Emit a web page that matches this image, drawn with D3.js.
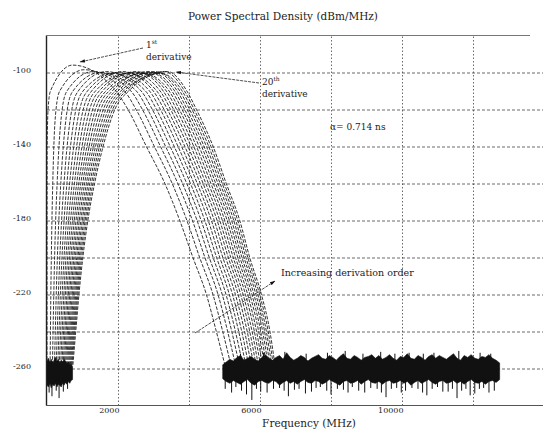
<!DOCTYPE html>
<html><head><meta charset="utf-8">
<script src="https://cdn.jsdelivr.net/npm/d3@7"></script>
<style>
body{margin:0;background:#fff}
svg{display:block;background:#fff}
text{font-family:"DejaVu Serif",serif;fill:#222}
</style>
</head><body>
<svg id="c" width="543" height="437"></svg>
<script>
// ---------- data (frequencies in GHz, levels in dBm/MHz) ----------
const derivOrders = [1,2,3,4,5,6,7,8,9,10,11,12,13,14,15,16,17,18,19,20];
const riseLevels = [-258,-240,-220,-200,-180,-160,-140,-120,-110];
const fallLevels = [-110,-120,-140,-160,-180,-200,-220,-240,-258];
const riseFreq = [
 [0.000,0.0005,0.001,0.0015,0.002,0.003,0.005,0.030,0.097],
 [0.087,0.097,0.108,0.122,0.139,0.162,0.192,0.254,0.359],
 [0.154,0.171,0.191,0.214,0.244,0.285,0.337,0.427,0.562],
 [0.210,0.234,0.260,0.292,0.333,0.388,0.459,0.571,0.731],
 [0.260,0.289,0.321,0.361,0.411,0.479,0.566,0.699,0.881],
 [0.304,0.338,0.376,0.422,0.481,0.561,0.662,0.814,1.016],
 [0.346,0.384,0.427,0.480,0.546,0.637,0.752,0.921,1.141],
 [0.385,0.427,0.475,0.533,0.607,0.708,0.835,1.021,1.258],
 [0.421,0.467,0.519,0.582,0.663,0.773,0.912,1.113,1.366],
 [0.455,0.505,0.561,0.630,0.717,0.836,0.986,1.201,1.470],
 [0.487,0.540,0.601,0.674,0.768,0.895,1.056,1.284,1.566],
 [0.518,0.575,0.639,0.718,0.817,0.952,1.123,1.365,1.661],
 [0.548,0.608,0.675,0.758,0.863,1.006,1.186,1.440,1.749],
 [0.577,0.640,0.711,0.798,0.909,1.059,1.249,1.515,1.837],
 [0.604,0.671,0.745,0.837,0.953,1.110,1.309,1.587,1.921],
 [0.631,0.700,0.778,0.873,0.994,1.158,1.366,1.654,2.000],
 [0.657,0.729,0.810,0.909,1.035,1.206,1.423,1.722,2.080],
 [0.682,0.757,0.841,0.943,1.074,1.252,1.476,1.786,2.155],
 [0.706,0.783,0.870,0.977,1.112,1.296,1.528,1.848,2.227],
 [0.730,0.810,0.900,1.010,1.150,1.340,1.580,1.910,2.300]
];
const peakFreq = [0.72,1.04,1.29,1.49,1.67,1.84,1.99,2.13,2.26,2.39,2.51,2.62,2.73,2.84,2.94,3.04,3.13,3.22,3.31,3.40];
const peakDb = [-96,-98.5,-99.5,-100,-99.5,-100.5,-100,-99.5,-100.5,-100,-99.5,-100,-100.5,-99.5,-100,-99.5,-100,-100.5,-99.5,-99.5];
const fallFreq = [
 [1.940,2.280,2.800,3.320,3.740,4.110,4.490,4.770,5.010],
 [2.178,2.510,3.024,3.526,3.941,4.300,4.675,4.950,5.178],
 [2.362,2.687,3.197,3.685,4.097,4.448,4.817,5.089,5.308],
 [2.516,2.836,3.341,3.818,4.227,4.571,4.936,5.205,5.416],
 [2.652,2.967,3.469,3.936,4.342,4.680,5.042,5.308,5.512],
 [2.774,3.085,3.584,4.041,4.445,4.777,5.136,5.400,5.598],
 [2.888,3.195,3.691,4.140,4.541,4.868,5.225,5.486,5.678],
 [2.994,3.297,3.791,4.232,4.631,4.953,5.307,5.566,5.753],
 [3.092,3.392,3.883,4.317,4.713,5.032,5.383,5.640,5.822],
 [3.186,3.482,3.971,4.398,4.793,5.107,5.456,5.711,5.888],
 [3.274,3.567,4.054,4.474,4.867,5.177,5.524,5.777,5.951],
 [3.360,3.650,4.135,4.548,4.940,5.246,5.591,5.842,6.011],
 [3.440,3.728,4.210,4.618,5.008,5.310,5.653,5.903,6.068],
 [3.520,3.805,4.285,4.687,5.075,5.374,5.715,5.963,6.124],
 [3.596,3.878,4.357,4.752,5.139,5.435,5.773,6.020,6.178],
 [3.668,3.948,4.424,4.815,5.200,5.492,5.829,6.075,6.228],
 [3.740,4.017,4.492,4.877,5.261,5.550,5.885,6.129,6.279],
 [3.808,4.083,4.556,4.936,5.319,5.604,5.938,6.180,6.327],
 [3.874,4.146,4.618,4.993,5.374,5.657,5.989,6.230,6.374],
 [3.940,4.210,4.680,5.050,5.430,5.710,6.040,6.280,6.420]
];
// noise floor: [freq, top dB, bottom dB]
const noiseLeft = [
 [0.00,-256,-269],[0.04,-254.5,-270],[0.08,-256.5,-268],[0.12,-255,-270.5],[0.16,-257,-268.5],
 [0.20,-255.5,-269.5],[0.24,-254,-268],[0.28,-256,-270],[0.32,-255,-268.5],[0.36,-257,-269],
 [0.40,-255.5,-270],[0.44,-256.5,-268],[0.48,-255,-269],[0.52,-256,-267.5],[0.56,-257.5,-268.5],
 [0.60,-256.5,-267],[0.64,-258,-268],[0.68,-257.5,-266.5],[0.72,-259,-266]
];
const noiseRight = [
 [4.95,-258,-265.5],[5.05,-256.5,-267],[5.15,-255,-268],[5.25,-256,-266.5],[5.35,-254,-267.5],
 [5.45,-253,-268.5],[5.55,-255.5,-267],[5.65,-254.5,-266],[5.75,-253.5,-268],[5.85,-255,-269],
 [5.95,-256,-267],[6.05,-254,-266.5],[6.15,-252.5,-267.5],[6.25,-254.5,-268],[6.35,-255.5,-266.5],
 [6.45,-254,-267],[6.55,-253,-269],[6.65,-255,-267.5],[6.75,-251.5,-266.5],[6.85,-254,-268],
 [6.95,-255.5,-267],[7.05,-254.5,-268.5],[7.15,-253,-267],[7.25,-254,-266],[7.35,-256,-267.5],
 [7.45,-254.5,-268],[7.55,-253.5,-266.5],[7.65,-252.5,-267],[7.75,-254.5,-268.5],[7.85,-255,-267.5],
 [7.95,-253,-266],[8.05,-254,-267],[8.15,-255.5,-268],[8.25,-253.5,-269],[8.35,-252,-267],
 [8.45,-254.5,-266.5],[8.55,-255,-268],[8.65,-253,-267.5],[8.75,-254,-266.5],[8.85,-255.5,-268.5],
 [8.95,-254,-267],[9.05,-253.5,-266],[9.15,-252.5,-267.5],[9.25,-254.5,-268],[9.35,-253,-267],
 [9.45,-255,-268.5],[9.55,-254,-267],[9.65,-252.5,-266.5],[9.75,-254.5,-268],[9.85,-255.5,-267.5],
 [9.95,-253.5,-266.5],[10.05,-254,-268],[10.15,-252,-267],[10.25,-254.5,-269],[10.35,-255,-267.5],
 [10.45,-253,-266.5],[10.55,-254,-268],[10.65,-255.5,-267],[10.75,-253.5,-266],[10.85,-252.5,-267.5],
 [10.95,-254.5,-268.5],[11.05,-253,-267],[11.15,-254,-266.5],[11.25,-255,-268],[11.35,-253.5,-267.5],
 [11.45,-252,-266.5],[11.55,-254.5,-268],[11.65,-255.5,-267],[11.75,-253,-268.5],[11.85,-254,-267],
 [11.95,-252.5,-266],[12.05,-254.5,-267.5],[12.15,-255,-268],[12.25,-253.5,-267],[12.35,-254,-268.5],
 [12.45,-252.5,-267],[12.55,-254.5,-266.5],[12.65,-255.5,-267.5],[12.75,-257,-266]
];
const noiseSpikesDown = [
 [0.06,-273],[0.14,-275],[0.26,-272],[0.34,-276],[0.46,-272.5],[0.58,-271],
 [5.02,-271],[5.20,-273],[5.32,-270],[5.48,-272],[5.62,-274],[5.77,-277],[5.90,-271],[6.02,-272.5],
 [6.20,-273],[6.38,-271],[6.55,-270.5],[6.68,-272],[6.80,-275],[6.97,-271.5],[7.10,-271],[7.28,-273.5],
 [7.45,-272.5],[7.58,-270.5],[7.70,-270],[7.88,-272],[8.00,-274],[8.18,-271],[8.35,-271.5],[8.48,-273],
 [8.60,-270],[8.78,-272],[8.95,-273],[9.12,-270.5],[9.30,-271],[9.42,-273],[9.55,-275.5],[9.70,-271],
 [9.85,-270.5],[9.98,-273],[10.10,-272],[10.28,-270.5],[10.45,-271],[10.58,-273],[10.70,-274.5],
 [10.85,-271],[11.00,-270],[11.15,-272.5],[11.30,-272.5],[11.42,-271],[11.55,-276],[11.68,-272],
 [11.80,-271],[11.92,-274.5],[12.05,-273.5],[12.18,-271],[12.30,-270.5],[12.45,-273],[12.60,-272]
];
const noiseSpikesUp = [
 [5.45,-252],[6.10,-251.5],[6.70,-251],[7.30,-252],[7.90,-251.5],[8.40,-250.5],[8.90,-252],
 [9.40,-251],[9.80,-252],[10.20,-251.5],[10.60,-252],[10.90,-251.5],[11.60,-250.5],[12.20,-251.5],[12.50,-252]
];
const xGridMHz = [2000,4000,6000,8000,10000,12000];
const xLabelMHz = [2000,6000,10000];
const yGridDb = [-260,-240,-220,-200,-180,-160,-140,-120,-100];
const yLabelDb = [-100,-140,-180,-220,-260];

// ---------- layout ----------
const svg = d3.select("#c");
const L = 47, R = 544, T = 35.5, B = 405.5;
const x = d3.scaleLinear().domain([0, 14000]).range([L, R]);
const y = d3.scaleLinear().domain([-280, -80]).range([B, T]);
const xf = g => x(g * 1000);

// gridlines
svg.append("g").attr("transform", `translate(0,${B})`)
  .call(d3.axisBottom(x).tickValues(xGridMHz).tickSize(-(B - T)).tickFormat(""))
  .call(g => g.select(".domain").remove())
  .call(g => g.selectAll("line").attr("stroke", "#444").attr("stroke-width", 0.8).attr("stroke-dasharray", "1.5,2"));
svg.append("g").attr("transform", `translate(${L},0)`)
  .call(d3.axisLeft(y).tickValues(yGridDb).tickSize(-(R - L)).tickFormat(""))
  .call(g => g.select(".domain").remove())
  .call(g => g.selectAll("line").attr("stroke", "#444").attr("stroke-width", 0.8).attr("stroke-dasharray", "3,2"));

// curves
const line = d3.line().x(d => xf(d[0])).y(d => y(d[1])).curve(d3.curveMonotoneX);
const curves = derivOrders.map((n, i) => {
  const pts = [];
  riseLevels.forEach((lv, j) => { if (lv < peakDb[i]) pts.push([riseFreq[i][j], lv]); });
  pts.push([peakFreq[i], peakDb[i]]);
  fallLevels.forEach((lv, j) => pts.push([fallFreq[i][j], lv]));
  return pts;
});
svg.append("g").selectAll("path").data(curves).join("path")
  .attr("d", line).attr("fill", "none").attr("stroke", "#111")
  .attr("stroke-width", 0.85).attr("stroke-dasharray", "3.5,1.5");

// noise floor
const area = d3.area().x(d => xf(d[0])).y0(d => y(d[2])).y1(d => y(d[1]));
svg.append("g").selectAll("path").data([noiseLeft, noiseRight]).join("path")
  .attr("d", area).attr("fill", "#111").attr("stroke", "#111").attr("stroke-width", 0.6);
svg.append("g").selectAll("line").data(noiseSpikesDown).join("line")
  .attr("x1", d => xf(d[0])).attr("x2", d => xf(d[0]))
  .attr("y1", y(-265)).attr("y2", d => y(d[1])).attr("stroke", "#111").attr("stroke-width", 1);
svg.append("g").selectAll("line").data(noiseSpikesUp).join("line")
  .attr("x1", d => xf(d[0])).attr("x2", d => xf(d[0]))
  .attr("y1", y(-255)).attr("y2", d => y(d[1])).attr("stroke", "#111").attr("stroke-width", 1);

// frame
svg.append("line").attr("x1", L - 0.5).attr("x2", L - 0.5).attr("y1", T).attr("y2", B)
  .attr("stroke", "#222").attr("stroke-width", 1.4);
svg.append("line").attr("x1", L - 1).attr("x2", R).attr("y1", B).attr("y2", B)
  .attr("stroke", "#555").attr("stroke-width", 1);
svg.append("line").attr("x1", L - 1).attr("x2", 530).attr("y1", T).attr("y2", T)
  .attr("stroke", "#777").attr("stroke-width", 1);

// axis labels
svg.append("g").attr("transform", `translate(31,0)`)
  .call(d3.axisLeft(y).tickValues(yLabelDb).tickSize(0).tickPadding(0).tickFormat(d => String(d)))
  .call(g => g.select(".domain").remove())
  .call(g => g.selectAll("text").attr("font-size", 8).attr("dy", "-0.05em").attr("font-family", "DejaVu Serif"));
svg.append("g").attr("transform", `translate(1,${B})`)
  .call(d3.axisBottom(x).tickValues(xLabelMHz).tickSize(0).tickPadding(2).tickFormat(d => String(d)))
  .call(g => g.select(".domain").remove())
  .call(g => g.selectAll("text").attr("font-size", 8).attr("text-anchor", "end").attr("font-family", "DejaVu Serif"));

// titles
svg.append("text").attr("x", 283).attr("y", 20).attr("text-anchor", "middle")
  .attr("font-size", 10.5).text("Power Spectral Density (dBm/MHz)");
svg.append("text").attr("x", 309).attr("y", 427).attr("text-anchor", "middle")
  .attr("font-size", 10.5).text("Frequency (MHz)");

// annotations
const defs = svg.append("defs");
defs.append("marker").attr("id", "ah").attr("viewBox", "0 0 10 6").attr("refX", 9).attr("refY", 3)
  .attr("markerWidth", 7).attr("markerHeight", 5).attr("orient", "auto")
  .append("path").attr("d", "M0,0 L10,3 L0,6 Z").attr("fill", "#111");

function arrow(x1, y1, x2, y2) {
  svg.append("line").attr("x1", x1).attr("y1", y1).attr("x2", x2).attr("y2", y2)
    .attr("stroke", "#222").attr("stroke-width", 0.8).attr("stroke-dasharray", "3,1")
    .attr("marker-end", "url(#ah)");
}
const t1 = svg.append("text").attr("x", 146).attr("y", 48).attr("font-size", 9);
t1.append("tspan").text("1");
t1.append("tspan").attr("font-size", 6).attr("dy", -4).text("st");
svg.append("text").attr("x", 146).attr("y", 60).attr("font-size", 9).text("derivative");
arrow(143, 48, 80, 62);

const t20 = svg.append("text").attr("x", 262).attr("y", 85).attr("font-size", 9);
t20.append("tspan").text("20");
t20.append("tspan").attr("font-size", 6).attr("dy", -4).text("th");
svg.append("text").attr("x", 262).attr("y", 97).attr("font-size", 9).text("derivative");
arrow(259, 83, 176, 72);

svg.append("text").attr("x", 330).attr("y", 130).attr("font-size", 9).text("\u03b1= 0.714 ns");

svg.append("text").attr("x", 281).attr("y", 276).attr("font-size", 9.5).text("Increasing derivation order");
arrow(195, 333, 275, 281);
</script>
</body></html>
